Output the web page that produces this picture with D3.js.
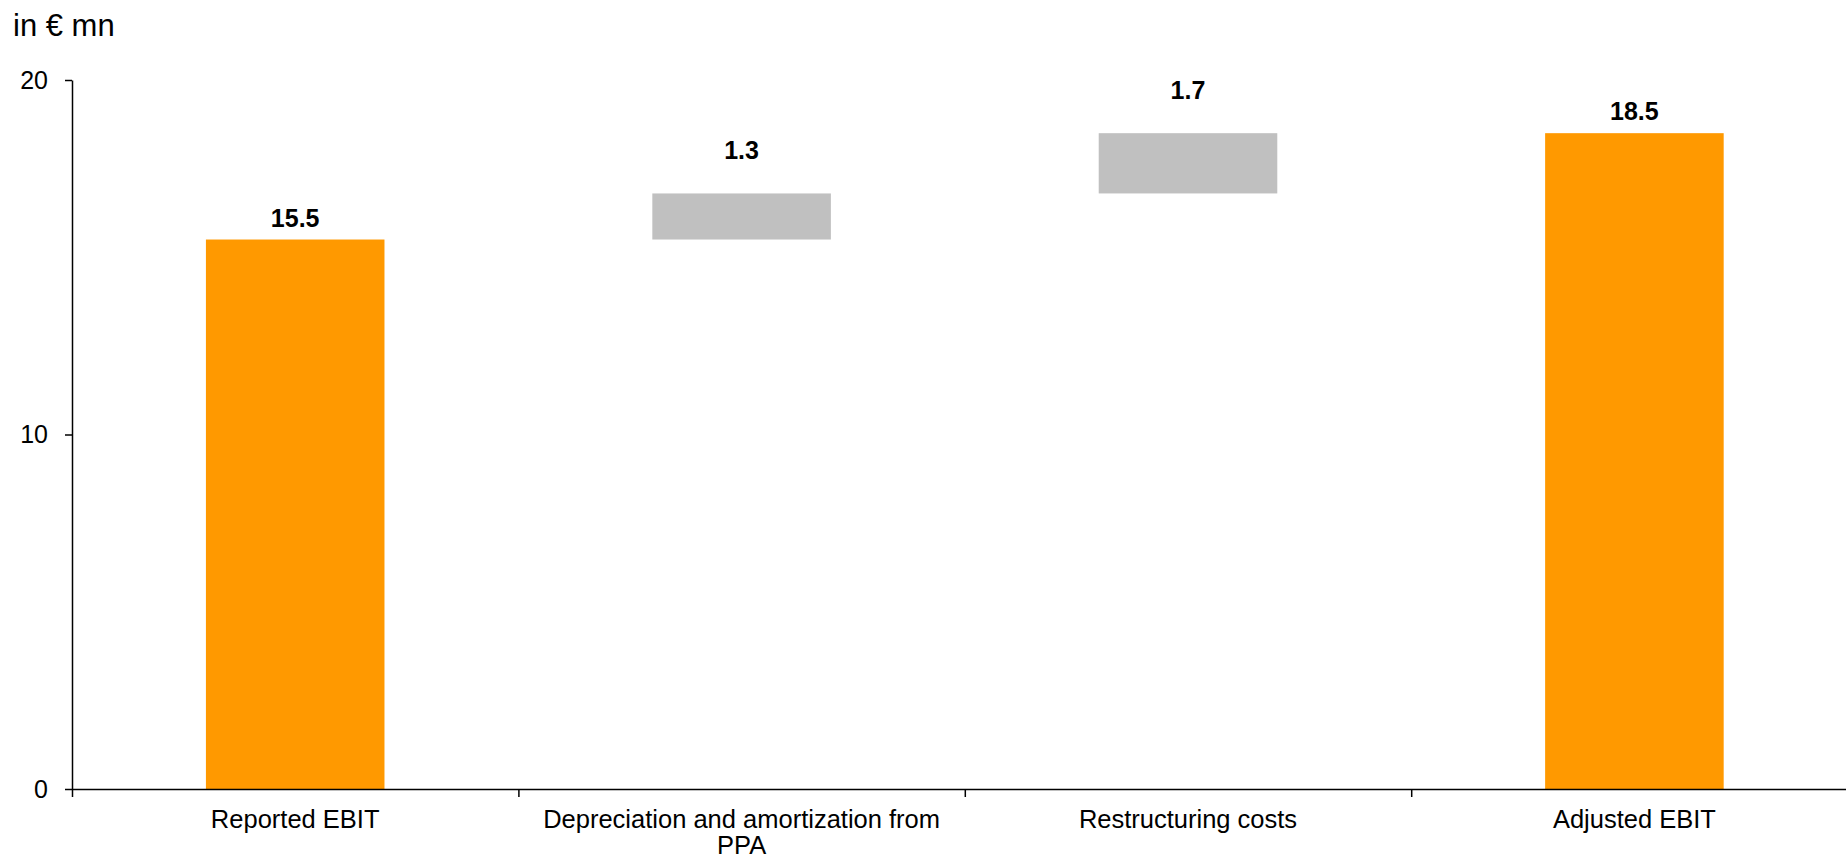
<!DOCTYPE html>
<html>
<head>
<meta charset="utf-8">
<script src="https://cdn.jsdelivr.net/npm/d3@7"></script>
<style>
  body { margin: 0; background: #fff; }
  svg { display: block; font-family: "Liberation Sans", Arial, sans-serif; }
</style>
</head>
<body>
<div id="chart"></div>
<script>
// waterfall data
const categories = ["Reported EBIT", "Depreciation and amortization from PPA", "Restructuring costs", "Adjusted EBIT"];
const values = [15.5, 1.3, 1.7, 18.5];
const kinds = ["total", "delta", "delta", "total"];
const yTicks = [0, 10, 20];
const unitLabel = "in € mn";

const width = 1846, height = 862;
const conf = { ml: 72, mt: 80, bottomY: 789, band: 446.4 };
const colors = { total: "#FF9900", delta: "#C0C0C0" };

const svg = d3.select("#chart").append("svg")
    .attr("width", width)
    .attr("height", height)
    .attr("viewBox", [0, 0, width, height]);

// running base for the floating bars
let run = 0;
const bars = categories.map((c, i) => {
    let lo, hi;
    if (kinds[i] === "total") { lo = 0; hi = values[i]; run = values[i]; }
    else { lo = run; hi = run + values[i]; run = hi; }
    return { cat: c, value: values[i], kind: kinds[i], lo, hi };
});

const x = d3.scaleBand()
    .domain(categories)
    .range([conf.ml, conf.ml + conf.band * categories.length])
    .padding(0);
const xEdges = d3.scaleLinear()
    .domain([0, categories.length])
    .range(x.range());
const y = d3.scaleLinear()
    .domain([0, 20])
    .range([conf.bottomY, conf.mt]);

const barW = x.bandwidth() * 0.4;

svg.append("g")
    .selectAll("rect")
    .data(bars)
    .join("rect")
      .attr("x", d => x(d.cat) + (x.bandwidth() - barW) / 2)
      .attr("width", barW)
      .attr("y", d => y(d.hi))
      .attr("height", d => y(d.lo) - y(d.hi))
      .attr("fill", d => colors[d.kind]);

svg.append("g")
    .selectAll("text")
    .data(bars)
    .join("text")
      .attr("x", d => x(d.cat) + x.bandwidth() / 2)
      .attr("y", d => y(d.hi) - (d.kind === "total" ? 13 : 34))
      .attr("text-anchor", "middle")
      .attr("font-size", 25)
      .attr("font-weight", "bold")
      .text(d => d3.format(".1f")(d.value));

// y axis
svg.append("g")
    .attr("transform", `translate(${conf.ml},0)`)
    .call(d3.axisLeft(y).tickValues(yTicks).tickSize(7).tickSizeOuter(0).tickPadding(17))
    .call(g => g.selectAll("path, line").attr("stroke", "#000").attr("stroke-width", 1.5))
    .call(g => g.selectAll("text").attr("font-size", 25).attr("fill", "#000")
        .attr("font-family", "Liberation Sans, Arial, sans-serif"));

// x axis, ticks at band edges
svg.append("g")
    .attr("transform", `translate(0,${conf.bottomY})`)
    .call(d3.axisBottom(xEdges).tickValues(d3.range(categories.length + 1)).tickFormat("").tickSize(8).tickSizeOuter(0))
    .call(g => g.selectAll("path, line").attr("stroke", "#000").attr("stroke-width", 1.5));

const catLabels = svg.append("g")
    .selectAll("text")
    .data(categories)
    .join("text")
      .attr("x", d => x(d) + x.bandwidth() / 2)
      .attr("y", conf.bottomY + 39)
      .attr("text-anchor", "middle")
      .attr("font-size", 25.5)
      .attr("fill", "#000");

catLabels.each(function(d) {
    const t = d3.select(this);
    const words = d.split(" ");
    let line = [];
    let tspan = t.append("tspan").attr("x", t.attr("x")).attr("dy", 0);
    words.forEach(w => {
        line.push(w);
        tspan.text(line.join(" "));
        if (tspan.node().getComputedTextLength() > x.bandwidth() - 12 && line.length > 1) {
            line.pop();
            tspan.text(line.join(" "));
            line = [w];
            tspan = t.append("tspan").attr("x", t.attr("x")).attr("dy", 26).text(w);
        }
    });
});

svg.append("text")
    .attr("x", 13)
    .attr("y", 36)
    .attr("font-size", 31)
    .attr("fill", "#000")
    .text(unitLabel);
</script>
</body>
</html>
